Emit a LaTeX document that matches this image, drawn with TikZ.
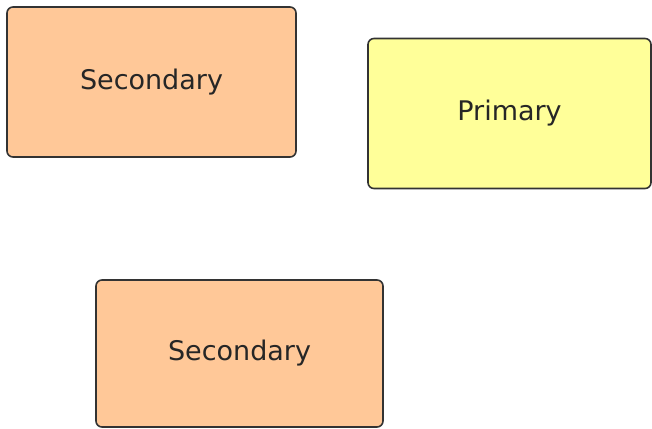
\documentclass[tikz,border=0pt]{standalone}
\usepackage{fontspec}
\setmainfont{DejaVu Sans}
\definecolor{secfill}{HTML}{FFC898}
\definecolor{primfill}{HTML}{FFFF99}
\definecolor{edge}{HTML}{333333}
\tikzset{
  box/.style={draw=edge, line width=1.6pt, rounded corners=6pt, minimum width=289pt, minimum height=150pt, inner sep=0pt, font=\fontsize{27}{30}\selectfont, text=black!85},
}
\begin{document}
\begin{tikzpicture}[x=1pt,y=1pt]
\useasboundingbox (0,0) rectangle (652,428);
\node[box, fill=secfill] (s1) at (151.5,346) {Secondary};
\node[box, fill=primfill, minimum width=283pt] (p) at (509.5,314.5) {Primary};
\node[box, fill=secfill, minimum width=287pt, minimum height=147pt] (s2) at (239.5,74.5) {Secondary};
\end{tikzpicture}
\end{document}
